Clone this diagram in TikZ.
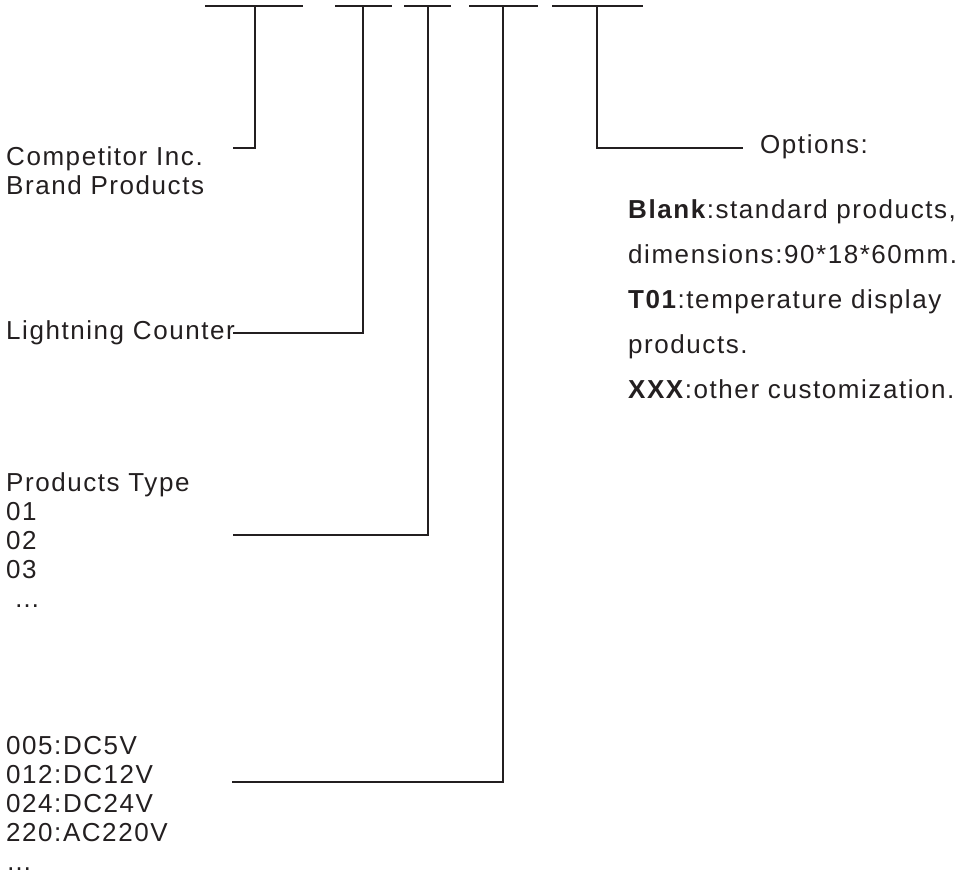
\documentclass[tikz,border=0pt]{standalone}
\usepackage{fontspec}
\setmainfont[LetterSpace=6]{Liberation Sans}
\definecolor{ink}{RGB}{35,31,32}
\tikzset{
  lbl/.style={anchor=base west,inner sep=0pt,align=left,text=ink,
    font=\fontsize{26}{29}\selectfont},
  wire/.style={draw=ink,line width=1.6pt}
}
\begin{document}
\begin{tikzpicture}[x=1pt,y=-1pt]
\useasboundingbox (0,0) rectangle (972,876);

% code fields
\foreach \a/\m/\b [count=\i] in {205/255/303,335/363/392,404/428/451,469/503/538,552/597/643}{
  \draw[wire] (\a,6) -- (\b,6);
  \coordinate (top\i) at (\m,6);
}

% base of the last line of each block
\node[lbl] (brand) at (6,194) {Competitor Inc.\\Brand Products};
\node[lbl] (counter) at (6,339) {Lightning Counter};
\node[lbl] (type) at (6,607) {Products Type\\01\\02\\03\\\hspace{8pt}…};
\node[lbl] (volt) at (6,870) {005:DC5V\\012:DC12V\\024:DC24V\\220:AC220V\\…};
\node[lbl] (opt) at (760,153) {Options:};
\node[lbl,font=\fontsize{26}{45}\selectfont] (optlist) at (628,398)
  {\textbf{Blank}:standard products,\\dimensions:90*18*60mm.\\
   \textbf{T01}:temperature display\\products.\\
   \textbf{XXX}:other customization.};

\coordinate (end1) at (233,148);
\coordinate (end2) at (233,333);
\coordinate (end3) at (233,535);
\coordinate (end4) at (232,782);
\coordinate (end5) at (743,148);

\draw[wire] (top1) |- (end1);
\draw[wire] (top2) |- (end2);
\draw[wire] (top3) |- (end3);
\draw[wire] (top4) |- (end4);
\draw[wire] (top5) |- (end5);
\end{tikzpicture}
\end{document}
